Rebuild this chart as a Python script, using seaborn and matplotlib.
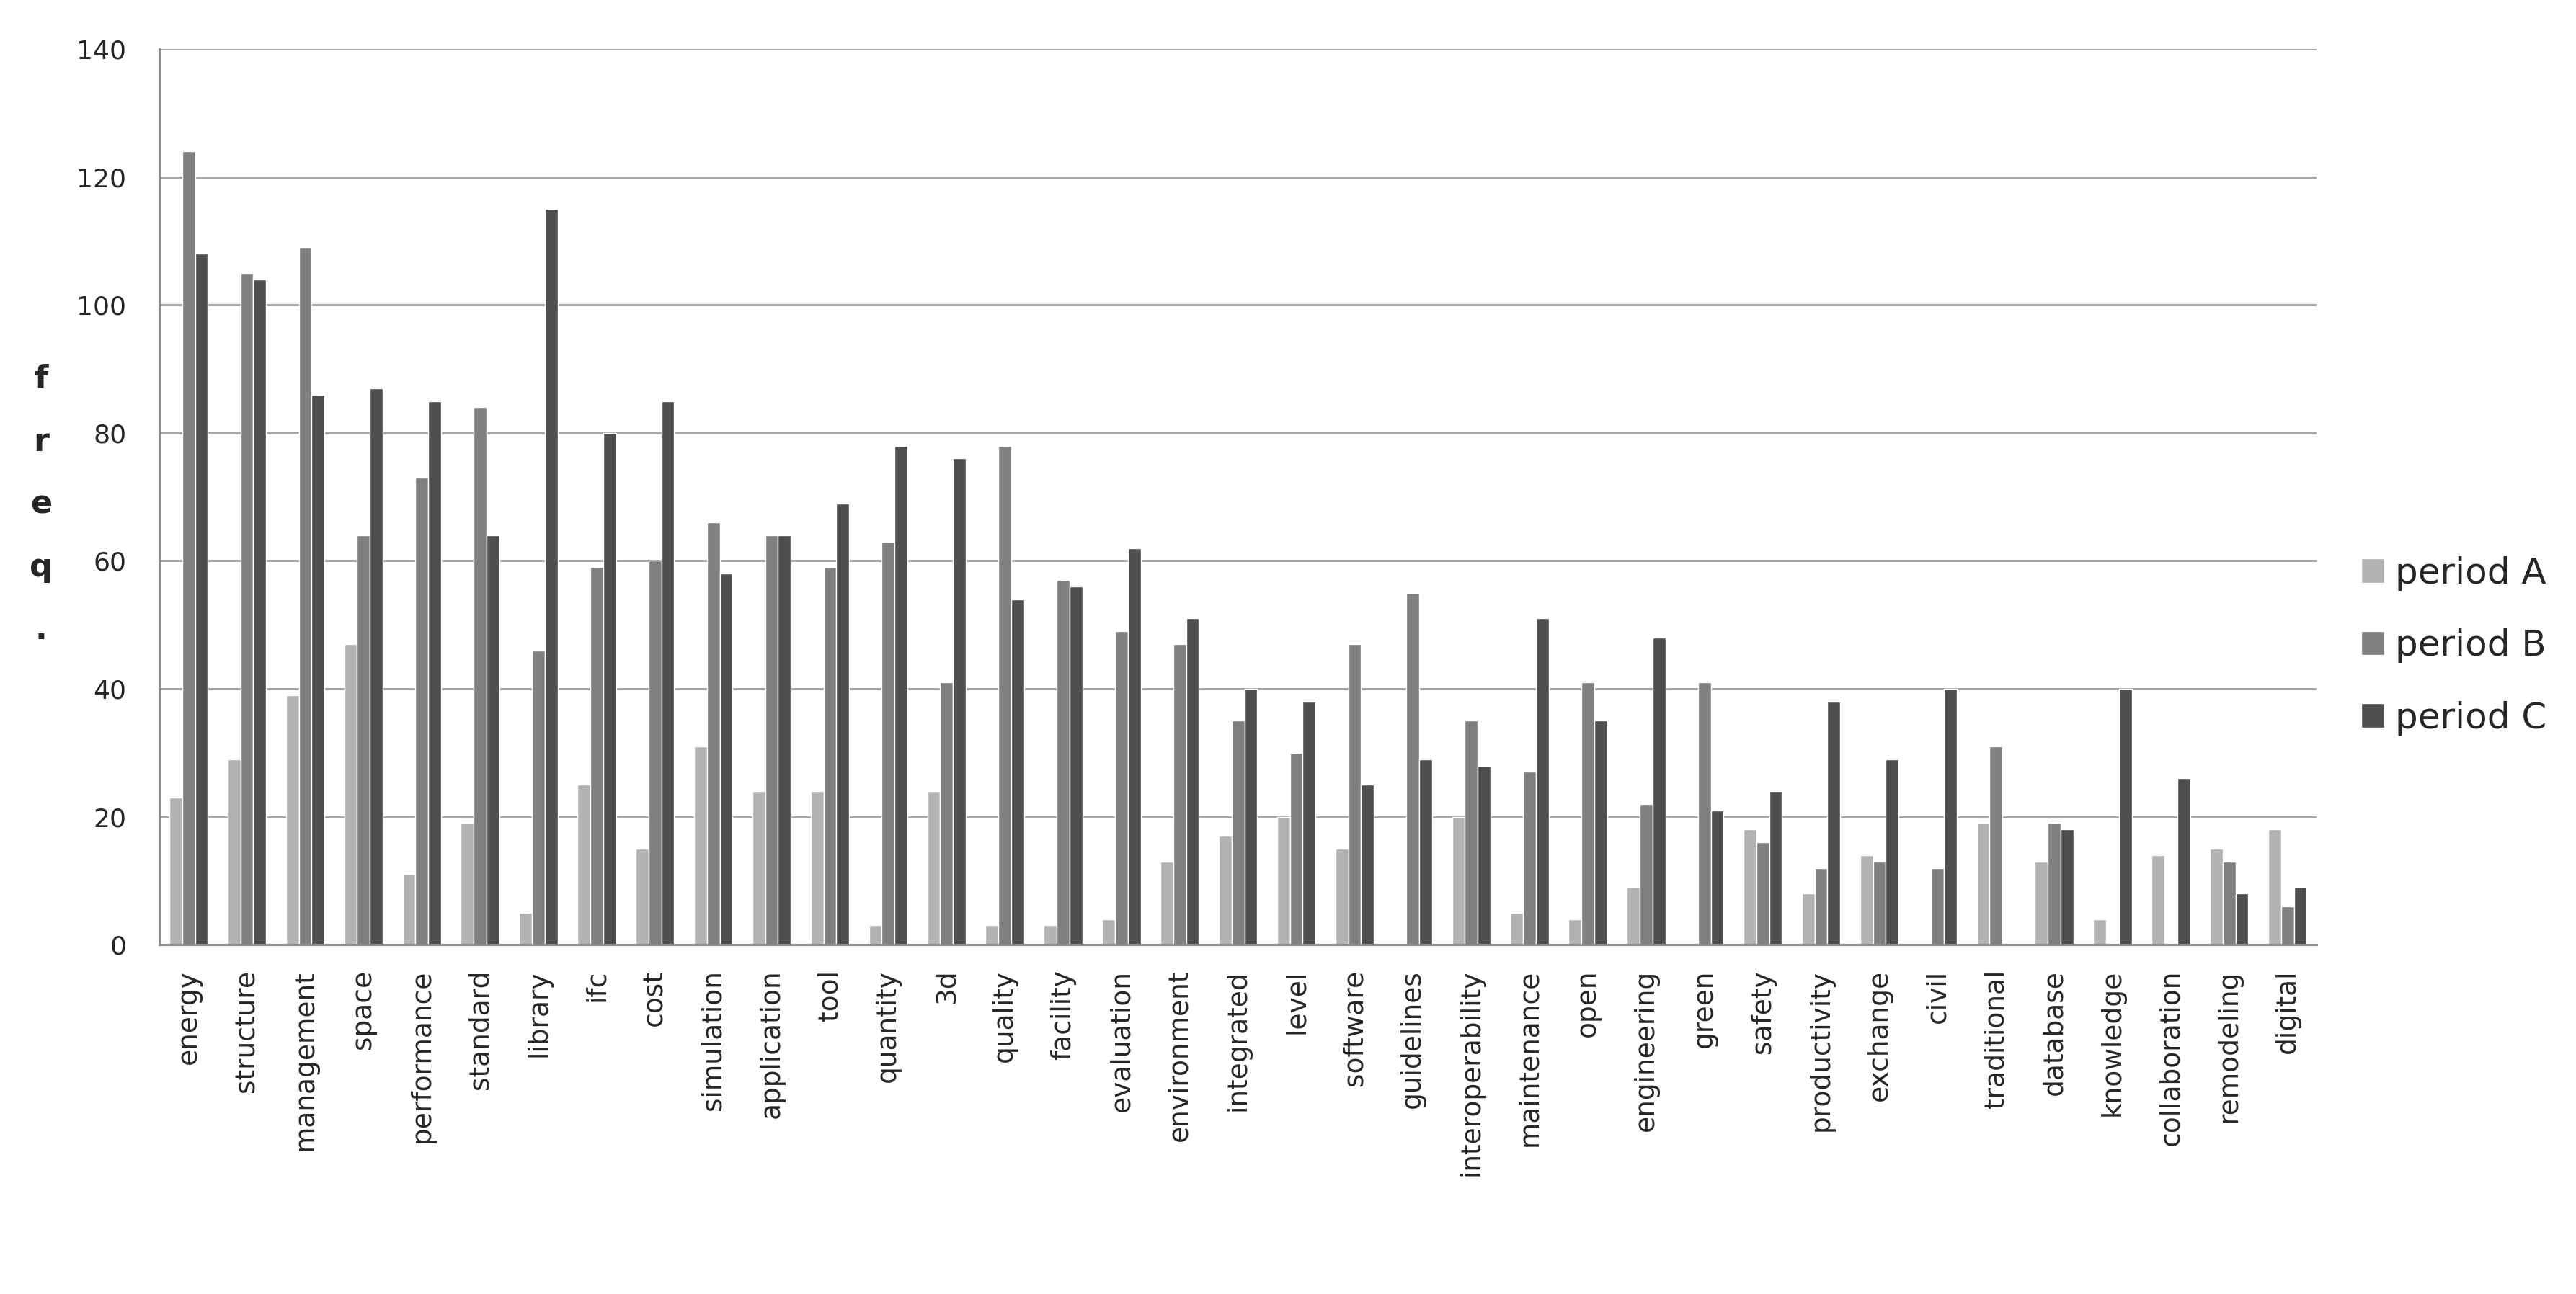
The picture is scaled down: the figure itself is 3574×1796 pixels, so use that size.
import matplotlib
matplotlib.use("Agg")
import matplotlib.pyplot as plt
import pandas as pd
import seaborn as sns
import numpy as np

terms = ["energy", "structure", "management", "space", "performance", "standard",
         "library", "ifc", "cost", "simulation", "application", "tool", "quantity",
         "3d", "quality", "facility", "evaluation", "environment", "integrated",
         "level", "software", "guidelines", "interoperability", "maintenance",
         "open", "engineering", "green", "safety", "productivity", "exchange",
         "civil", "traditional", "database", "knowledge", "collaboration",
         "remodeling", "digital"]

period_a = [23, 29, 39, 47, 11, 19, 5, 25, 15, 31, 24, 24, 3, 24, 3, 3, 4, 13, 17,
            20, 15, 0, 20, 5, 4, 9, 0, 18, 8, 14, 0, 19, 13, 4, 14, 15, 18]
period_b = [124, 105, 109, 64, 73, 84, 46, 59, 60, 66, 64, 59, 63, 41, 78, 57, 49, 47, 35,
            30, 47, 55, 35, 27, 41, 22, 41, 16, 12, 13, 12, 31, 19, 0, 0, 13, 6]
period_c = [108, 104, 86, 87, 85, 64, 115, 80, 85, 58, 64, 69, 78, 76, 54, 56, 62, 51, 40,
            38, 25, 29, 28, 51, 35, 48, 21, 24, 38, 29, 40, 0, 18, 40, 26, 8, 9]

periods = ["period A", "period B", "period C"]
colors = ["#b2b2b2", "#808080", "#4f4f4f"]

df = pd.DataFrame({
    "term": terms * 3,
    "freq": period_a + period_b + period_c,
    "period": [p for p in periods for _ in terms],
})

sns.set_style("white")
plt.rcParams["font.family"] = ["DejaVu Sans"]

fig = plt.figure(figsize=(35.74, 17.96), dpi=100)
ax = fig.add_axes([0.0619, 0.270, 0.8374, 0.692])

sns.barplot(data=df, x="term", y="freq", hue="period", palette=colors,
            width=0.66, gap=0, saturation=1, ax=ax)

ax.set_ylim(0, 140)
ax.set_xlim(-0.5, len(terms) - 0.5)
ax.set_yticks(range(0, 141, 20))
ax.yaxis.grid(True, color="#a6a6a6", linewidth=2.2)
ax.set_axisbelow(True)
for s in ["top", "right"]:
    ax.spines[s].set_visible(False)
ax.spines["left"].set_color("#8c8c8c")
ax.spines["left"].set_linewidth(2.2)
ax.spines["bottom"].set_color("#8c8c8c")
ax.spines["bottom"].set_linewidth(2.2)

ax.tick_params(axis="y", length=11, width=2.2, color="#a6a6a6", pad=22, labelsize=26)
ax.tick_params(axis="x", which="major", length=0, pad=25, labelsize=27, rotation=90)
ax.set_xticks(np.arange(-0.5, len(terms), 1), minor=True)
ax.tick_params(axis="x", which="minor", length=15, width=2, color="#8c8c8c")
ax.set_xlabel("")
ax.set_ylabel("")

# y label drawn as stacked letters
fig.text(0.016, 0.610, "f\nr\ne\nq\n.", fontsize=32, fontweight="bold",
         ha="center", va="center", linespacing=2.3)

leg = ax.legend(loc="center left", bbox_to_anchor=(0.904, 0.501),
                bbox_transform=fig.transFigure, frameon=False, fontsize=36,
                handlelength=0.65, handleheight=0.65, handletextpad=0.3,
                labelspacing=1.05)

fig.savefig("out.png", dpi=100, facecolor="white")
